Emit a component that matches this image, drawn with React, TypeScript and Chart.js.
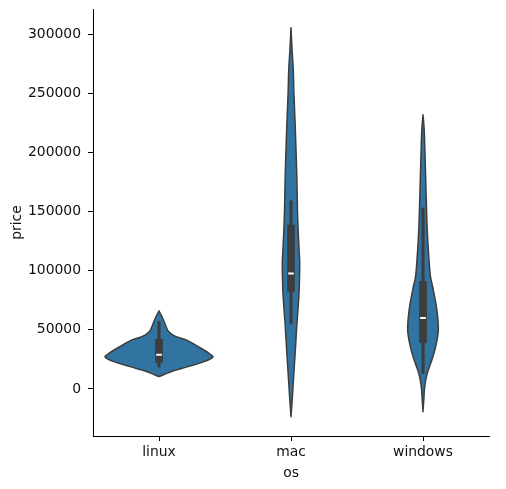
import React, { useEffect, useRef } from 'react';
import { Chart, registerables } from 'chart.js';

Chart.register(...registerables);

// ---- data ----
const categories = ['linux', 'mac', 'windows'];
const yTicks = [0, 50000, 100000, 150000, 200000, 250000, 300000];
const yMin = -39760;
const yMax = 321150;

// violin outlines: price levels and half-widths (fraction of category spacing)
const linuxLevels = [66000, 59800, 54100, 48500, 44200, 41500, 34400, 28800, 26500, 23100, 18900, 14600, 10400];
const linuxWidths = [0, 0.028, 0.049, 0.072, 0.129, 0.205, 0.318, 0.394, 0.405, 0.341, 0.22, 0.091, 0];

const macLevels = [305400, 291000, 270000, 250000, 222000, 180000, 151000, 132000, 117600, 106600, 92200, 81200, 61200, 55800, 33000, 5100, -9300, -23400];
const macWidths = [0, 0.006, 0.017, 0.022, 0.032, 0.044, 0.049, 0.055, 0.061, 0.066, 0.064, 0.061, 0.049, 0.045, 0.033, 0.017, 0.009, 0];

const windowsLevels = [231800, 219100, 202200, 191200, 162700, 134500, 106600, 94800, 83800, 66800, 49900, 35800, 24500, 13300, 2000, -9300, -19200];
const windowsWidths = [0, 0.009, 0.014, 0.017, 0.024, 0.032, 0.047, 0.057, 0.078, 0.105, 0.116, 0.096, 0.067, 0.032, 0.013, 0.006, 0];

// inner box statistics
const q1 = [22500, 82000, 39000];
const medians = [29000, 97500, 60000];
const q3 = [42000, 138500, 91000];
const whiskerLow = [18500, 55000, 13000];
const whiskerHigh = [57000, 159000, 153000];

const violins = [
  { levels: linuxLevels, widths: linuxWidths },
  { levels: macLevels, widths: macWidths },
  { levels: windowsLevels, widths: windowsWidths },
];

const FILL = '#3274a1';
const DARK = '#3d3d3d';
const FONT = { family: 'DejaVu Sans', size: 13.9 };
const TEXT = '#111111';

type P = { x: number; y: number };

function catmull(ctx: CanvasRenderingContext2D, pts: P[]) {
  for (let k = 0; k < pts.length - 1; k++) {
    const p0 = pts[Math.max(k - 1, 0)];
    const p1 = pts[k];
    const p2 = pts[k + 1];
    const p3 = pts[Math.min(k + 2, pts.length - 1)];
    const c1x = p1.x + (p2.x - p0.x) / 6;
    const c1y = p1.y + (p2.y - p0.y) / 6;
    const c2x = p2.x - (p3.x - p1.x) / 6;
    const c2y = p2.y - (p3.y - p1.y) / 6;
    ctx.bezierCurveTo(c1x, c1y, c2x, c2y, p2.x, p2.y);
  }
}

const violinPlugin = {
  id: 'violins',
  beforeDatasetsDraw(chart: any) {
    const { ctx, scales, chartArea } = chart;
    const x = scales.x;
    const y = scales.y;
    const spacing = x.getPixelForValue(1) - x.getPixelForValue(0);
    ctx.save();
    ctx.beginPath();
    ctx.rect(chartArea.left, chartArea.top, chartArea.right - chartArea.left, chartArea.bottom - chartArea.top);
    ctx.clip();
    violins.forEach((v, i) => {
      const cx = x.getPixelForValue(i);
      const right: P[] = v.levels.map((lv, k) => ({ x: cx + v.widths[k] * spacing, y: y.getPixelForValue(lv) }));
      const left: P[] = v.levels
        .map((lv, k) => ({ x: cx - v.widths[k] * spacing, y: y.getPixelForValue(lv) }))
        .reverse();
      ctx.beginPath();
      ctx.moveTo(right[0].x, right[0].y);
      catmull(ctx, right);
      ctx.lineTo(left[0].x, left[0].y);
      catmull(ctx, left);
      ctx.closePath();
      ctx.fillStyle = FILL;
      ctx.fill();
      ctx.lineWidth = 1.5;
      ctx.lineJoin = 'round';
      ctx.strokeStyle = DARK;
      ctx.stroke();
    });
    ctx.restore();
  },
};

export default function App() {
  const ref = useRef<HTMLCanvasElement | null>(null);
  useEffect(() => {
    if (!ref.current) return;
    const chart = new Chart(ref.current, {
      type: 'bar',
      data: {
        labels: categories,
        datasets: [
          {
            type: 'line',
            label: 'median',
            data: medians,
            showLine: false,
            pointStyle: 'line',
            pointRadius: 2.8,
            pointHoverRadius: 2.8,
            pointBorderWidth: 2,
            pointBorderColor: '#ffffff',
            borderColor: '#ffffff',
            order: 0,
          } as any,
          {
            type: 'bar',
            label: 'box',
            data: q1.map((v, i) => [v, q3[i]]),
            backgroundColor: DARK,
            barThickness: 7,
            grouped: false,
            order: 1,
          } as any,
          {
            type: 'bar',
            label: 'whisker',
            data: whiskerLow.map((v, i) => [v, whiskerHigh[i]]),
            backgroundColor: DARK,
            barThickness: 2.5,
            grouped: false,
            order: 2,
          } as any,
        ],
      },
      options: {
        responsive: false,
        animation: false,
        devicePixelRatio: 1,
        layout: { padding: { top: 9, right: 17, bottom: 0, left: 0 } },
        plugins: { legend: { display: false }, tooltip: { enabled: false } },
        scales: {
          x: {
            type: 'category',
            offset: true,
            grid: { offset: false, drawOnChartArea: false, tickLength: 5, tickColor: '#000', tickWidth: 1 },
            border: { display: true, color: '#000', width: 1 },
            ticks: { font: FONT, color: TEXT, padding: 3, maxRotation: 0 },
            title: { display: true, text: 'os', font: FONT, color: TEXT, padding: { top: 0, bottom: 7.7 } },
            afterFit: (s: any) => {
              s.height = 53;
              s.paddingLeft = 0;
              s.paddingRight = 0;
            },
          },
          y: {
            type: 'linear',
            min: yMin,
            max: yMax,
            afterBuildTicks: (s: any) => {
              s.ticks = yTicks.map((v) => ({ value: v }));
            },
            grid: { drawOnChartArea: false, tickLength: 5, tickColor: '#000', tickWidth: 1 },
            border: { display: true, color: '#000', width: 1 },
            ticks: { font: FONT, color: TEXT, padding: 7, callback: (v: any) => String(v) },
            title: { display: true, text: 'price', font: FONT, color: TEXT, padding: { top: 8.7, bottom: 0 } },
            afterFit: (s: any) => {
              s.width = 93;
              s.paddingTop = 0;
              s.paddingBottom = 0;
            },
          },
        },
      } as any,
      plugins: [violinPlugin],
    });
    return () => chart.destroy();
  }, []);
  return (
    <div style={{ position: 'absolute', left: 0, top: 0, width: 506, height: 489, background: '#fff' }}>
      <canvas ref={ref} width={506} height={489} />
    </div>
  );
}
